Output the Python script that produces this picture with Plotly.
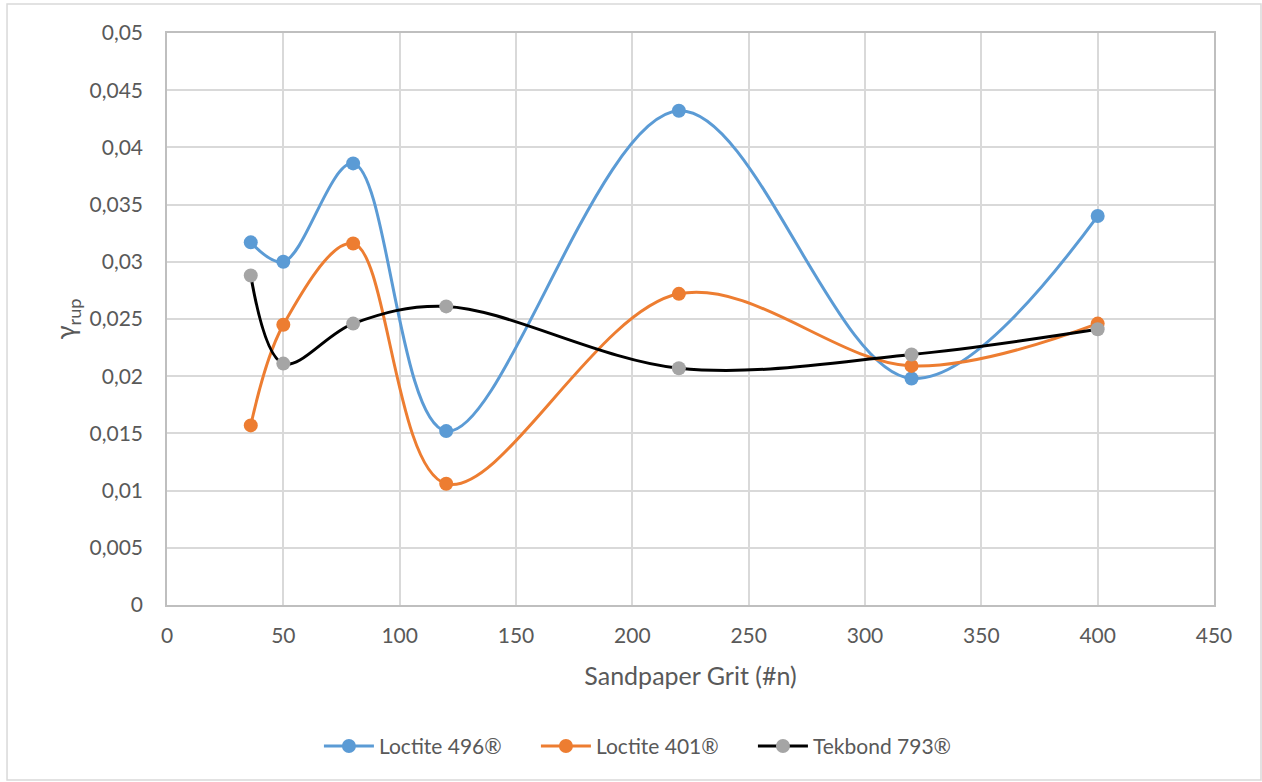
import plotly.graph_objects as go

grit = [36, 50, 80, 120, 220, 320, 400]
loctite_496 = [0.0317, 0.0300, 0.0386, 0.0152, 0.0432, 0.0198, 0.0340]
loctite_401 = [0.0157, 0.0245, 0.0316, 0.0106, 0.0272, 0.0209, 0.0246]
tekbond_793 = [0.0288, 0.0211, 0.0246, 0.0261, 0.0207, 0.0219, 0.0241]

series = [
    ("Loctite 496®", loctite_496, "#5B9BD5", "#5B9BD5"),
    ("Loctite 401®", loctite_401, "#ED7D31", "#ED7D31"),
    ("Tekbond 793®", tekbond_793, "#000000", "#A5A5A5"),
]

fig = go.Figure()
for name, vals, lc, mc in series:
    fig.add_trace(go.Scatter(
        x=grit, y=vals, name=name, mode="lines+markers",
        line=dict(color=lc, width=3, shape="spline", smoothing=1.0),
        marker=dict(color=mc, size=14),
    ))

font = "Lato, Open Sans, sans-serif"
fig.update_layout(
    width=1262, height=782,
    margin=dict(l=167, r=48, t=33, b=177),
    paper_bgcolor="white", plot_bgcolor="white",
    separators=",.",
    font=dict(family=font, color="#595959", size=21),
    showlegend=True,
    legend=dict(orientation="h", x=0.456, xanchor="center", y=-0.247, yanchor="middle",
                font=dict(size=21, color="#595959"), itemwidth=50,
                entrywidth=152, entrywidthmode="pixels"),
    xaxis=dict(range=[0, 450], dtick=50, showgrid=True, gridcolor="#d9d9d9", gridwidth=1.5,
               showline=True, linecolor="#bfbfbf", linewidth=1.5, mirror=True,
               zeroline=False, ticks="", tickfont=dict(size=21), ticklabelstandoff=11,
               title=dict(text="Sandpaper Grit (#n)", font=dict(size=25), standoff=22)),
    yaxis=dict(range=[0, 0.05], dtick=0.005, showgrid=True, gridcolor="#d9d9d9", gridwidth=1.5,
               showline=True, linecolor="#bfbfbf", linewidth=1.5, mirror=True,
               zeroline=False, ticks="", tickfont=dict(size=21), tickformat="~g",
               ticklabelstandoff=18,
               title=dict(text="γ<sub>rup</sub>", font=dict(size=26), standoff=6)),
    shapes=[dict(type="rect", xref="paper", yref="paper",
                 x0=-0.1528, x1=1.0449, y0=-0.306, y1=1.0507,
                 line=dict(color="#d9d9d9", width=1.5), fillcolor="rgba(0,0,0,0)", layer="below")],
)

fig.write_html("out.html", config={"displayModeBar": False},
               post_script="document.body.style.margin='0';document.body.style.overflow='hidden';")
